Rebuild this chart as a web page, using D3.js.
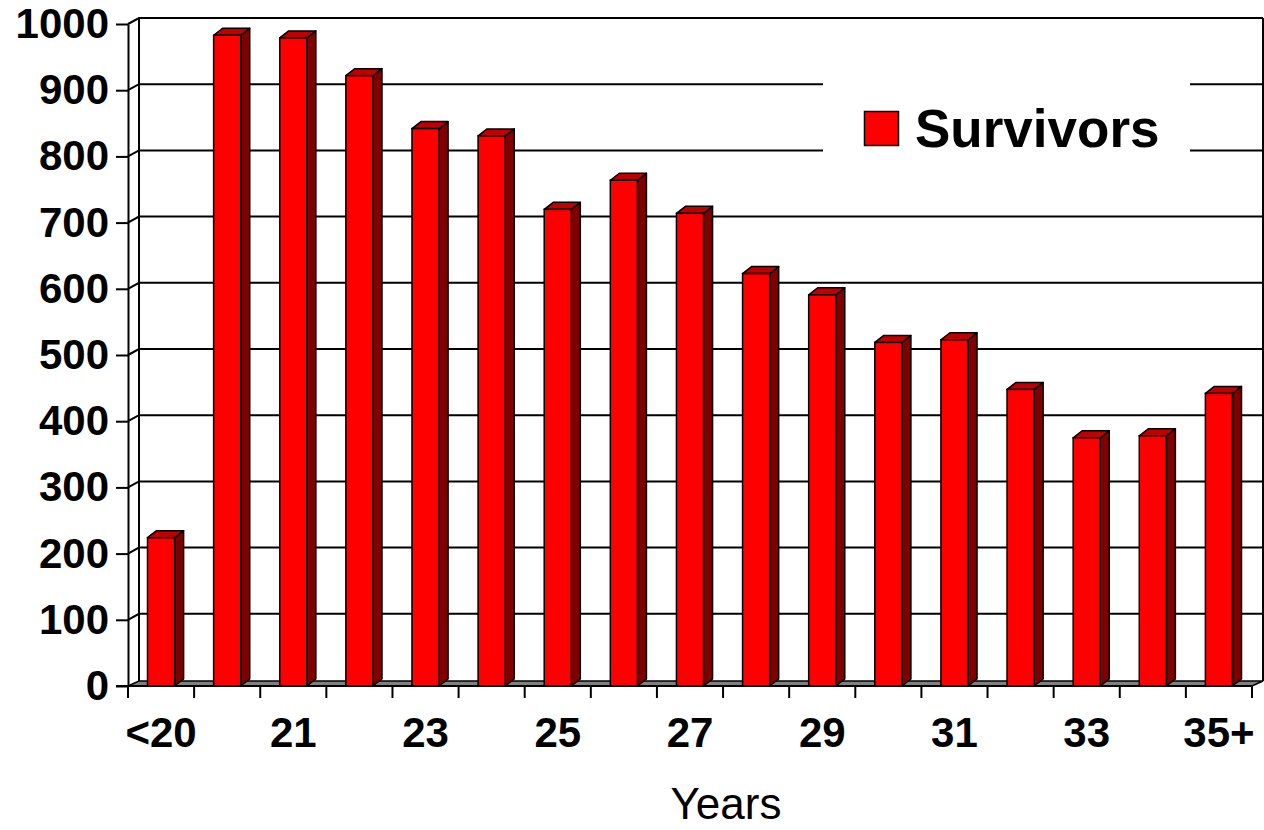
<!DOCTYPE html>
<html>
<head>
<meta charset="utf-8">
<script src="https://cdn.jsdelivr.net/npm/d3@7"></script>
<style>
  html, body { margin: 0; padding: 0; background: #fff; }
  svg { display: block; font-family: "Liberation Sans", Arial, sans-serif; }
</style>
</head>
<body>
<svg id="chart" width="1264" height="830"></svg>
<script>
// Survivors by age group
const categories = ["<20", "20", "21", "22", "23", "24", "25", "26", "27", "28", "29", "30", "31", "32", "33", "34", "35+"];
const survivors = [224, 983, 979, 922, 842, 831, 720, 764, 714, 623, 591, 519, 523, 448, 375, 378, 442];
const yTickValues = [0, 100, 200, 300, 400, 500, 600, 700, 800, 900, 1000];
const xTickLabels = ["<20", "21", "23", "25", "27", "29", "31", "33", "35+"];
const seriesName = "Survivors";
const axisTitle = "Years";

const svg = d3.select("#chart");

// front plane of the plot
const plotLeft = 128, plotRight = 1252, plotBottom = 686, plotTop = 24;
// depth of the walls and of the bars (pseudo-3D offset)
const wallDx = 11, wallDy = -6;
const floorDy = -5;
const barDx = 9, barDy = -7;

const x = d3.scaleBand().domain(categories).range([plotLeft, plotRight]).padding(0);
const y = d3.scaleLinear().domain([0, 1000]).range([plotBottom, plotTop]);

const walls = svg.append("g");

// floor
walls.append("path")
  .attr("d", `M${plotLeft},${plotBottom} L${plotRight},${plotBottom} L${plotRight + wallDx},${plotBottom + floorDy} L${plotLeft + wallDx},${plotBottom + floorDy} Z`)
  .attr("fill", "#808080")
  .attr("stroke", "#000")
  .attr("stroke-width", 1.5);

// gridlines on the side and back walls
yTickValues.filter(v => v > 0).forEach(v => {
  const yf = y(v);
  walls.append("path")
    .attr("d", `M${plotLeft},${yf} L${plotLeft + wallDx},${yf + wallDy} L${plotRight + wallDx},${yf + wallDy}`)
    .attr("fill", "none")
    .attr("stroke", "#000")
    .attr("stroke-width", 2);
});

// wall edges
walls.append("line")
  .attr("x1", plotLeft + wallDx).attr("x2", plotLeft + wallDx)
  .attr("y1", y(1000) + wallDy).attr("y2", plotBottom + floorDy)
  .attr("stroke", "#000").attr("stroke-width", 2);
walls.append("line")
  .attr("x1", plotRight + wallDx).attr("x2", plotRight + wallDx)
  .attr("y1", y(1000) + wallDy).attr("y2", plotBottom + floorDy)
  .attr("stroke", "#000").attr("stroke-width", 2);

// legend background breaks the gridlines behind it
svg.append("rect")
  .attr("x", 823).attr("y", 62).attr("width", 367).attr("height", 112)
  .attr("fill", "#fff");

// bars
const barW = x.bandwidth() * 0.41;
const bars = svg.append("g").selectAll("g").data(categories).join("g");
bars.each(function (c, i) {
  const g = d3.select(this);
  const x0 = x(c) + (x.bandwidth() - barW) / 2;
  const x1 = x0 + barW;
  const yt = y(survivors[i]);
  const yb = y(0);
  // side face
  g.append("path")
    .attr("d", `M${x1},${yb} L${x1},${yt} L${x1 + barDx},${yt + barDy} L${x1 + barDx},${yb + barDy} Z`)
    .attr("fill", "#800000").attr("stroke", "#000").attr("stroke-width", 1.5).attr("stroke-linejoin", "round");
  // top face
  g.append("path")
    .attr("d", `M${x0},${yt} L${x1},${yt} L${x1 + barDx},${yt + barDy} L${x0 + barDx},${yt + barDy} Z`)
    .attr("fill", "#C00000").attr("stroke", "#000").attr("stroke-width", 1.5).attr("stroke-linejoin", "round");
  // front face
  g.append("rect")
    .attr("x", x0).attr("y", yt).attr("width", barW).attr("height", yb - yt)
    .attr("fill", "#FF0000").attr("stroke", "#000").attr("stroke-width", 1.5);
});

// y axis
const yAxis = svg.append("g")
  .attr("transform", `translate(${plotLeft},0)`)
  .call(d3.axisLeft(y).tickValues(yTickValues).tickFormat(d3.format("d"))
    .tickSize(12).tickPadding(7).tickSizeOuter(0));
yAxis.select(".domain").attr("stroke", "#000").attr("stroke-width", 2);
yAxis.selectAll(".tick line").attr("stroke", "#000").attr("stroke-width", 2);
yAxis.selectAll(".tick text")
  .attr("font-family", "'Liberation Sans', Arial, sans-serif")
  .attr("font-size", 42).attr("font-weight", "bold").attr("fill", "#000");

// x axis: boundary ticks and alternate category labels
const xAxis = svg.append("g").attr("transform", `translate(0,${plotBottom})`);
xAxis.append("line")
  .attr("x1", plotLeft - 12).attr("x2", plotRight)
  .attr("stroke", "#000").attr("stroke-width", 2);
const boundaries = categories.map(c => x(c)).concat([plotRight]);
xAxis.selectAll(".bt").data(boundaries).join("line")
  .attr("class", "bt")
  .attr("x1", d => d).attr("x2", d => d)
  .attr("y1", 0).attr("y2", 12)
  .attr("stroke", "#000").attr("stroke-width", 2);
xAxis.selectAll(".xl").data(xTickLabels).join("text")
  .attr("class", "xl")
  .attr("x", d => x(d) + x.bandwidth() / 2)
  .attr("y", 61)
  .attr("text-anchor", "middle")
  .attr("font-size", 42).attr("font-weight", "bold").attr("fill", "#000")
  .text(d => d);

// axis title
svg.append("text")
  .attr("x", 726).attr("y", 819)
  .attr("text-anchor", "middle")
  .attr("font-size", 44).attr("fill", "#000")
  .text(axisTitle);

// legend
const legend = svg.append("g");
legend.append("rect")
  .attr("x", 864.5).attr("y", 111.5).attr("width", 34).attr("height", 34)
  .attr("fill", "#FF0000").attr("stroke", "#000").attr("stroke-width", 1.5);
legend.append("text")
  .attr("x", 915).attr("y", 147)
  .attr("font-size", 53).attr("font-weight", "bold").attr("fill", "#000")
  .text(seriesName);
</script>
</body>
</html>
